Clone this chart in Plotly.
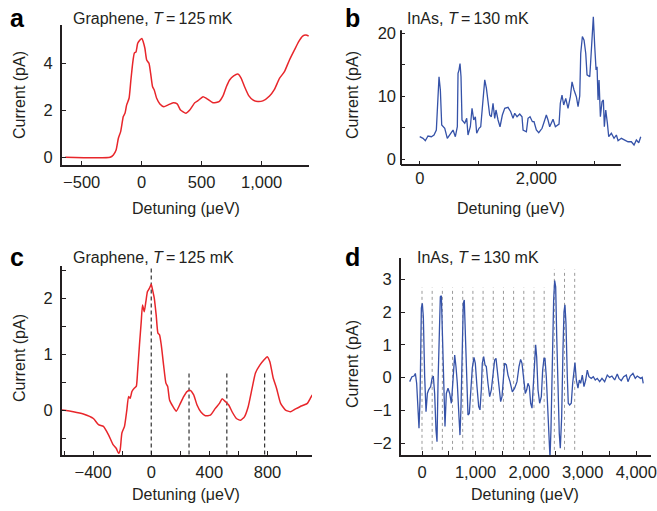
import plotly.graph_objects as go

# ---- data ----
# a: graphene, 125 mK
a_x = [-637, -263, -236, -213, -194, -175, -153, -139, -125, -105, -91, -75, -61, -47, -33,
       -14, 2, 13, 27, 42, 61, 75, 91, 105, 125, 152, 185, 221, 263, 296, 324, 368, 401, 443,
       470, 512, 540, 595, 645, 678, 706, 733, 767, 802, 830, 858, 894, 927, 969, 1010, 1066,
       1107, 1149, 1190, 1232, 1274, 1309, 1342, 1370, 1392]
a_y = [0.0, 0.0, 0.1, 0.31, 0.81, 1.09, 1.73, 1.87, 2.23, 2.51, 3.22, 4.0, 4.43, 4.49, 4.85,
       4.99, 5.06, 4.92, 4.64, 4.14, 4.0, 3.57, 3.0, 2.86, 2.51, 2.27, 2.15, 2.23, 2.32, 2.27,
       2.01, 1.87, 2.01, 2.32, 2.41, 2.58, 2.51, 2.32, 2.37, 2.61, 3.0, 3.29, 3.46, 3.54, 3.36,
       3.0, 2.61, 2.44, 2.37, 2.4, 2.61, 2.89, 3.36, 3.64, 4.14, 4.57, 4.92, 5.16, 5.2, 5.16]

# b: InAs, 130 mK
b_x = [0, 57, 96, 142, 199, 245, 285, 314, 331, 354, 377, 429, 473, 532, 571, 611, 645, 657,
       674, 691, 708, 725, 772, 806, 828, 868, 897, 926, 954, 977, 1017, 1046, 1068, 1091, 1115,
       1143, 1171, 1200, 1228, 1257, 1286, 1308, 1343, 1377, 1417, 1458, 1514, 1560, 1600, 1629,
       1669, 1715, 1754, 1772, 1829, 1857, 1892, 1932, 1960, 2000, 2041, 2098, 2144, 2171, 2200,
       2229, 2286, 2326, 2389, 2411, 2440, 2469, 2504, 2543, 2583, 2612, 2646, 2686, 2715, 2744,
       2761, 2789, 2818, 2847, 2869, 2916, 2943, 2977, 3001, 3024, 3041, 3058, 3075, 3098, 3126,
       3149, 3166, 3190, 3218, 3241, 3286, 3332, 3372, 3401, 3458, 3516, 3572, 3629, 3675, 3715,
       3756, 3790]
b_y = [3.59, 3.33, 2.95, 3.7, 3.59, 3.86, 4.65, 11.5, 13.1, 11.0, 5.44, 4.92, 3.33, 4.13, 4.65,
       3.59, 5.17, 13.65, 14.2, 15.2, 13.1, 6.24, 5.71, 6.5, 3.86, 5.17, 8.1, 6.24, 6.76, 4.13,
       4.92, 5.17, 7.83, 11.0, 12.6, 11.3, 8.9, 7.03, 6.76, 8.9, 6.5, 7.83, 6.24, 5.17, 7.03,
       8.1, 8.25, 7.56, 6.5, 7.3, 6.76, 7.19, 6.76, 4.65, 4.38, 6.5, 6.76, 5.97, 5.97, 4.65,
       4.22, 4.92, 6.24, 7.03, 6.24, 5.17, 6.35, 5.17, 5.6, 8.9, 10.2, 8.62, 9.68, 8.1, 9.94,
       12.3, 11.0, 9.94, 8.35, 10.05, 16.8, 19.5, 18.9, 16.8, 13.4, 13.1, 17.3, 22.6, 17.9, 14.2,
       14.7, 9.41, 12.6, 6.76, 9.14, 9.41, 5.17, 7.83, 5.71, 3.59, 4.13, 3.33, 3.86, 2.95, 3.33,
       3.06, 2.79, 2.79, 2.27, 3.06, 2.63, 3.59]

# c: graphene, 125 mK (derivative-like trace)
c_x = [-616, -536, -467, -398, -363, -329, -294, -264, -241, -225, -214, -202, -184, -168, -156,
       -145, -133, -117, -103, -94, -81, -69, -60, -48, -37, -26, -12, 0, 9, 21, 34, 46, 57, 69,
       85, 101, 113, 126, 150, 172, 195, 223, 246, 269, 292, 315, 343, 372, 407, 441, 469, 488,
       510, 533, 556, 586, 614, 641, 667, 694, 717, 747, 775, 798, 816, 839, 862, 890, 924, 959,
       993, 1023, 1050, 1074, 1097, 1108]
c_y = [0.01, -0.02, -0.06, -0.14, -0.25, -0.28, -0.43, -0.6, -0.67, -0.76, -0.7, -0.4, -0.28,
       0.01, 0.25, 0.22, 0.34, 0.4, 0.43, 0.69, 1.17, 1.58, 1.88, 1.76, 1.94, 2.12, 2.18, 2.25,
       2.15, 2.0, 1.7, 1.38, 1.35, 1.17, 0.81, 0.49, 0.43, 0.19, 0.07, -0.01, 0.1, 0.25, 0.34,
       0.36, 0.28, 0.1, -0.03, -0.09, -0.08, 0.04, 0.13, 0.21, 0.16, 0.1, -0.02, -0.14, -0.17,
       -0.11, 0.07, 0.4, 0.67, 0.81, 0.9, 0.96, 0.87, 0.58, 0.4, 0.13, 0.01, -0.02, 0.03, 0.07,
       0.1, 0.13, 0.23, 0.28]
c_lines = [0, 260, 520, 780]
c_line_top = [2.55, 0.67, 0.67, 0.67]
c_line_bottom = -0.78

# d: InAs, 130 mK
d_x = [-230, -187, -149, -124, -100, -75, -56, -37, -25, -12, 6, 25, 50, 75, 100, 124, 162, 187,
       211, 236, 261, 280, 299, 324, 342, 361, 380, 405, 429, 454, 485, 517, 548, 566, 591, 610,
       634, 659, 690, 709, 728, 752, 771, 789, 808, 834, 858, 883, 908, 939, 970, 995, 1026,
       1058, 1082, 1107, 1125, 1151, 1176, 1200, 1231, 1263, 1294, 1325, 1356, 1381, 1405, 1437,
       1468, 1493, 1518, 1542, 1574, 1605, 1642, 1686, 1729, 1773, 1810, 1841, 1866, 1898, 1928,
       1954, 1978, 2003, 2028, 2053, 2077, 2103, 2121, 2140, 2165, 2196, 2227, 2252, 2277, 2295,
       2320, 2345, 2370, 2389, 2407, 2432, 2457, 2476, 2495, 2513, 2538, 2562, 2581, 2607, 2631,
       2650, 2668, 2687, 2712, 2730, 2756, 2786, 2812, 2836, 2855, 2880, 2911, 2936, 2961, 2992,
       3023, 3055, 3085, 3116, 3159, 3197, 3234, 3271, 3316, 3359, 3409, 3458, 3502, 3545, 3596,
       3644, 3676, 3719, 3764, 3813, 3844, 3887, 3937, 3980, 4017, 4080, 4110, 4129]
d_y = [-0.12, 0.03, 0.05, 0.13, -0.17, -1.29, -1.54, -0.68, 0.84, 2.12, 2.27, 1.86, 0.03, -1.04,
       -0.48, -0.37, -0.27, -0.02, 0.05, -0.48, -1.59, -1.95, -0.17, 1.35, 2.47, 2.5, 1.35,
       -0.78, -1.49, -0.48, -0.32, -0.48, -0.78, -0.37, 0.49, 0.69, 0.34, -0.17, -1.19, -1.75,
       -0.88, 1.05, 2.27, 2.37, 1.35, -0.48, -1.14, -1.09, -0.37, 0.29, 0.62, 0.44, -0.27, -0.88,
       -0.98, -0.37, 0.44, 0.64, 0.39, 0.34, -0.17, -0.58, -0.37, 0.13, 0.54, 0.59, 0.23, -0.37,
       -0.73, -0.58, 0.13, 0.44, 0.39, 0.08, -0.12, -0.43, -0.32, -0.12, 0.34, 0.56, 0.44, -0.17,
       -0.48, -0.37, -0.17, -0.27, -0.78, -0.93, -0.17, 0.74, 1.0, 0.64, -0.37, -0.78, -0.58,
       0.23, 0.59, 0.59, 0.03, -0.88, -1.8, -2.45, -1.59, 0.54, 2.37, 2.96, 2.77, 1.35, -0.58,
       -1.7, -2.15, -1.19, 0.84, 2.01, 2.22, 1.66, 0.03, -0.78, -0.83, -0.78, -0.17, 0.34, 0.46,
       -0.07, -0.32, -0.07, -0.17, 0.08, -0.27, -0.07, 0.23, 0.03, -0.02, 0.03, -0.07, -0.02,
       -0.12, -0.02, -0.12, 0.08, 0.01, 0.05, -0.07, 0.11, -0.02, -0.09, 0.03, 0.08, -0.12, 0.05,
       0.13, -0.02, 0.05, -0.02, 0.01, -0.17]
d_lines = [0, 190, 380, 570, 760, 950, 1140, 1330, 1520, 1710, 1900, 2090, 2280, 2470, 2660, 2850]
d_line_top = [2.75] * 13 + [3.3] * 3
d_line_bottom = -2.2

# in b the axis lines are shorter than the trace: x line stops at 3450, y line at 20.5
b_xaxis_end = 3450
b_yaxis_top = 20.5

RED = "#e8262b"
BLUE = "#3552a8"
INK = "#231f20"
FONT = "Liberation Sans, Arial, sans-serif"

W, H = 657, 511


def px(x):
    return x / W


def py(y):
    return 1 - y / H


def vlines(xs, tops, bottom):
    lx, ly = [], []
    for x, t in zip(xs, tops):
        lx += [x, x, None]
        ly += [bottom, t, None]
    return lx, ly


fig = go.Figure()

fig.add_trace(go.Scatter(x=a_x, y=a_y, mode="lines", line=dict(color=RED, width=1.5, shape="spline", smoothing=0.5),
                         xaxis="x", yaxis="y"))
fig.add_trace(go.Scatter(x=b_x, y=b_y, mode="lines", line=dict(color=BLUE, width=1.3),
                         xaxis="x2", yaxis="y2"))

lx, ly = vlines(c_lines, c_line_top, c_line_bottom)
fig.add_trace(go.Scatter(x=lx, y=ly, mode="lines", line=dict(color="#333333", width=1.2, dash="4px,3px"),
                         xaxis="x3", yaxis="y3"))
fig.add_trace(go.Scatter(x=c_x, y=c_y, mode="lines", line=dict(color=RED, width=1.5, shape="spline", smoothing=0.5),
                         xaxis="x3", yaxis="y3"))

lx, ly = vlines(d_lines, d_line_top, d_line_bottom)
fig.add_trace(go.Scatter(x=lx, y=ly, mode="lines", line=dict(color="#999999", width=1, dash="3px,3px"),
                         xaxis="x4", yaxis="y4"))
fig.add_trace(go.Scatter(x=d_x, y=d_y, mode="lines", line=dict(color=BLUE, width=1.3),
                         xaxis="x4", yaxis="y4"))


def axis(domain, rng, dtick, minor=None, anchor=None, line=True, fmt=None, standoff=0):
    d = dict(domain=domain, range=rng, dtick=dtick, tick0=0, ticks="inside", ticklen=4,
             tickwidth=1, tickcolor=INK, showline=line, linecolor=INK, linewidth=2,
             showgrid=False, zeroline=False, anchor=anchor, automargin=False,
             ticklabelstandoff=standoff,
             tickfont=dict(family=FONT, size=16.5, color=INK))
    if fmt:
        d["tickformat"] = fmt
    if minor:
        d["minor"] = dict(dtick=minor, tick0=0, ticks="inside", ticklen=4, tickwidth=1, tickcolor=INK)
    return d


fig.update_layout(
    template="none",
    width=W, height=H,
    margin=dict(l=0, r=0, t=0, b=0, pad=0),
    paper_bgcolor="white", plot_bgcolor="rgba(0,0,0,0)",
    showlegend=False,
    font=dict(family=FONT, color=INK),
    xaxis=axis([px(62), px(309)], [-664, 1395], 500, anchor="y", fmt=",", standoff=1),
    yaxis=axis([py(165), py(25)], [-0.33, 5.63], 2, anchor="x", standoff=4),
    xaxis2=axis([px(401), px(645)], [-321, 3863], 2000, minor=1000, anchor="y2", line=False, fmt=",", standoff=1),
    yaxis2=axis([py(165), py(14)], [-0.9, 23.06], 10, minor=5, anchor="x2", line=False, standoff=4),
    xaxis3=axis([px(62), px(312)], [-614, 1106], 400, minor=200, anchor="y3", fmt=",", standoff=1),
    yaxis3=axis([py(455), py(266)], [-0.79, 2.575], 1, minor=0.5, anchor="x3", standoff=4),
    xaxis4=axis([px(401), px(651)], [-392, 4274], 1000, minor=500, anchor="y4", fmt=",", standoff=1),
    yaxis4=axis([py(455), py(258)], [-2.357, 3.65], 1, anchor="x4", standoff=4),
)

# axis lines of panel b, drawn by hand so that they can stop short
fig.add_shape(type="line", xref="x2", yref="y2 domain", x0=-321, x1=b_xaxis_end, y0=0, y1=0,
              line=dict(color=INK, width=2))
fig.add_shape(type="line", xref="x2 domain", yref="y2", x0=0, x1=0, y0=-0.9, y1=b_yaxis_top,
              line=dict(color=INK, width=2))

ann = []
for letter, x, y in [("a", 9, 18), ("b", 344, 18), ("c", 9, 257), ("d", 344, 257)]:
    ann.append(dict(text="<b>%s</b>" % letter, x=px(x), y=py(y), xref="paper", yref="paper",
                    xanchor="left", yanchor="middle", showarrow=False, borderpad=0,
                    font=dict(family=FONT, size=25, color="#000000")))

titles = [("Graphene, <i>T</i>\u2009=\u2009125\u2009mK", 71, 18),
          ("InAs, <i>T</i>\u2009=\u2009130 mK", 405, 18),
          ("Graphene, <i>T</i>\u2009=\u2009125 mK", 71, 257),
          ("InAs, <i>T</i>\u2009=\u2009130 mK", 415, 257)]
for t, x, y in titles:
    ann.append(dict(text=t, x=px(x), y=py(y), xref="paper", yref="paper", xanchor="left",
                    yanchor="middle", showarrow=False, font=dict(family=FONT, size=16, color=INK)))

for x, y in [(19, 95), (352, 95), (19, 358), (352, 364)]:
    ann.append(dict(text="Current (pA)", x=px(x), y=py(y), xref="paper", yref="paper",
                    xanchor="center", yanchor="middle",
                    textangle=-90, showarrow=False, font=dict(family=FONT, size=16, color=INK)))

for x, y in [(186, 208), (511, 208), (186, 494), (525, 494)]:
    ann.append(dict(text="Detuning (\u03bceV)", x=px(x), y=py(y), xref="paper", yref="paper",
                    xanchor="center", yanchor="middle",
                    showarrow=False, font=dict(family=FONT, size=16, color=INK)))

fig.update_layout(annotations=ann)

# drop the page's default body margin so the figure fills the window exactly
fig.write_html("out.html", config={"displayModeBar": False},
               post_script="document.body.style.margin='0px';")
